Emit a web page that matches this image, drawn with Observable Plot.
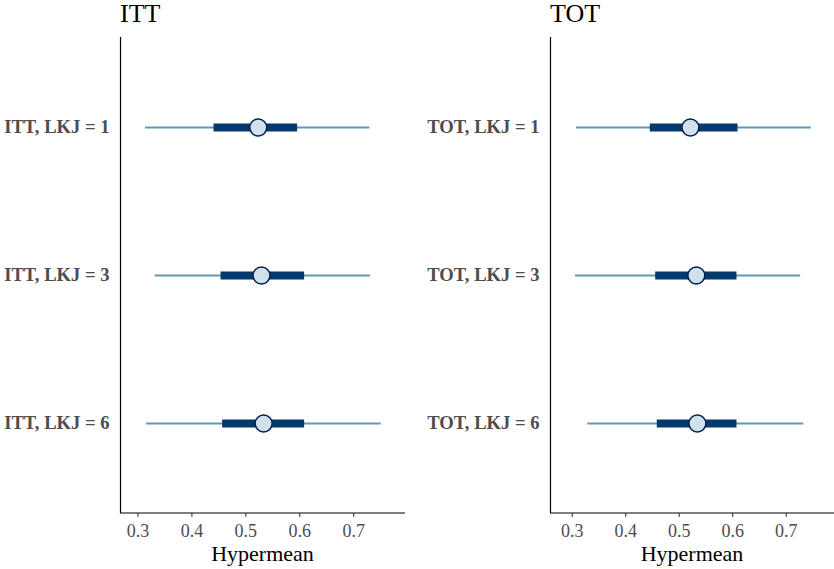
<!DOCTYPE html>
<html>
<head>
<meta charset="utf-8">
<script src="https://cdn.jsdelivr.net/npm/d3@7"></script>
<script src="https://cdn.jsdelivr.net/npm/@observablehq/plot@0.6"></script>
<style>
  body { margin: 0; background: #ffffff; }
  #wrap { position: relative; width: 834px; height: 569px; font-family: "Liberation Serif", "Times New Roman", serif; }
  .panel { position: absolute; top: 0; }
  .title { position: absolute; top: 0px; font-size: 26px; line-height: 28px; color: #000; white-space: nowrap; }
  .xlab { position: absolute; top: 542px; font-size: 22px; line-height: 24px; color: #000; text-align: center; white-space: nowrap; }
</style>
</head>
<body>
<div id="wrap"></div>
<script>
// ---- data ----
const ittLabels = ["ITT, LKJ = 1", "ITT, LKJ = 3", "ITT, LKJ = 6"];
const ittLow  = [0.314, 0.332, 0.316];
const ittQ25  = [0.441, 0.454, 0.457];
const ittMid  = [0.523, 0.529, 0.533];
const ittQ75  = [0.596, 0.609, 0.609];
const ittHigh = [0.730, 0.731, 0.751];

const totLabels = ["TOT, LKJ = 1", "TOT, LKJ = 3", "TOT, LKJ = 6"];
const totLow  = [0.308, 0.306, 0.329];
const totQ25  = [0.446, 0.456, 0.459];
const totMid  = [0.521, 0.532, 0.534];
const totQ75  = [0.610, 0.608, 0.608];
const totHigh = [0.747, 0.727, 0.733];

const xTicks = [0.3, 0.4, 0.5, 0.6, 0.7];
const panelTitles = ["ITT", "TOT"];
const xTitle = "Hypermean";

// ---- styling ----
const C_OUTER = "#6497b1", C_INNER = "#03396c", C_FILL = "#d1e1ec", C_PT = "#011f4b";
const FONT = "'Liberation Serif', 'Times New Roman', serif";

function rows(labels, low, q25, mid, q75, high) {
  return labels.map((l, i) => ({label: l, low: low[i], q25: q25[i], mid: mid[i], q75: q75[i], high: high[i]}));
}

function panel(data, labels, xDomain, opts) {
  const plot = Plot.plot({
    width: opts.width, height: 569,
    marginLeft: opts.marginLeft, marginRight: opts.marginRight,
    marginTop: 37, marginBottom: 56,
    style: {fontFamily: FONT, background: "transparent", overflow: "visible"},
    x: {domain: xDomain},
    y: {type: "point", domain: labels, padding: 0.6},
    marks: [
      Plot.axisY({tickSize: 0, tickPadding: 11, fontSize: 18.6, fontWeight: "bold", fill: "#4d4d4d", label: null}),
      Plot.axisX({ticks: xTicks, tickSize: 4, tickPadding: 7, fontSize: 18, fill: "#4d4d4d", stroke: "#333333", label: null, tickFormat: d3.format(".1f")}),
      Plot.ruleX([xDomain[0]], {stroke: "#000", strokeWidth: 1.2}),
      Plot.ruleY(data, {y: "label", x1: "low", x2: "high", stroke: C_OUTER, strokeWidth: 2}),
      Plot.ruleY(data, {y: "label", x1: "q25", x2: "q75", stroke: C_INNER, strokeWidth: 8}),
      Plot.dot(data, {y: "label", x: "mid", r: 8.5, fill: C_FILL, stroke: C_PT, strokeWidth: 1.5})
    ]
  });
  // bottom axis line from the x scale range
  const xr = plot.scale("x").range;
  d3.select(plot).append("line")
    .attr("x1", xr[0]).attr("x2", xr[1])
    .attr("y1", 569 - 56).attr("y2", 569 - 56)
    .attr("stroke", "#000").attr("stroke-width", 1.2);
  return {plot, xr};
}

const wrap = document.getElementById("wrap");
const specs = [
  {left: 0, width: 417, marginLeft: 120, marginRight: 12, domain: [0.2676, 0.796],
   data: rows(ittLabels, ittLow, ittQ25, ittMid, ittQ75, ittHigh), labels: ittLabels, title: panelTitles[0]},
  {left: 417, width: 417, marginLeft: 133, marginRight: 0, domain: [0.2594, 0.7903],
   data: rows(totLabels, totLow, totQ25, totMid, totQ75, totHigh), labels: totLabels, title: panelTitles[1]}
];

for (const s of specs) {
  const div = document.createElement("div");
  div.className = "panel";
  div.style.left = s.left + "px";
  div.style.width = s.width + "px";
  div.style.height = "569px";
  const {plot, xr} = panel(s.data, s.labels, s.domain, s);
  div.appendChild(plot);
  const t = document.createElement("div");
  t.className = "title";
  t.style.left = xr[0] + "px";
  t.textContent = s.title;
  div.appendChild(t);
  const xl = document.createElement("div");
  xl.className = "xlab";
  xl.style.left = xr[0] + "px";
  xl.style.width = (xr[1] - xr[0]) + "px";
  xl.textContent = xTitle;
  div.appendChild(xl);
  wrap.appendChild(div);
}
</script>
</body>
</html>
